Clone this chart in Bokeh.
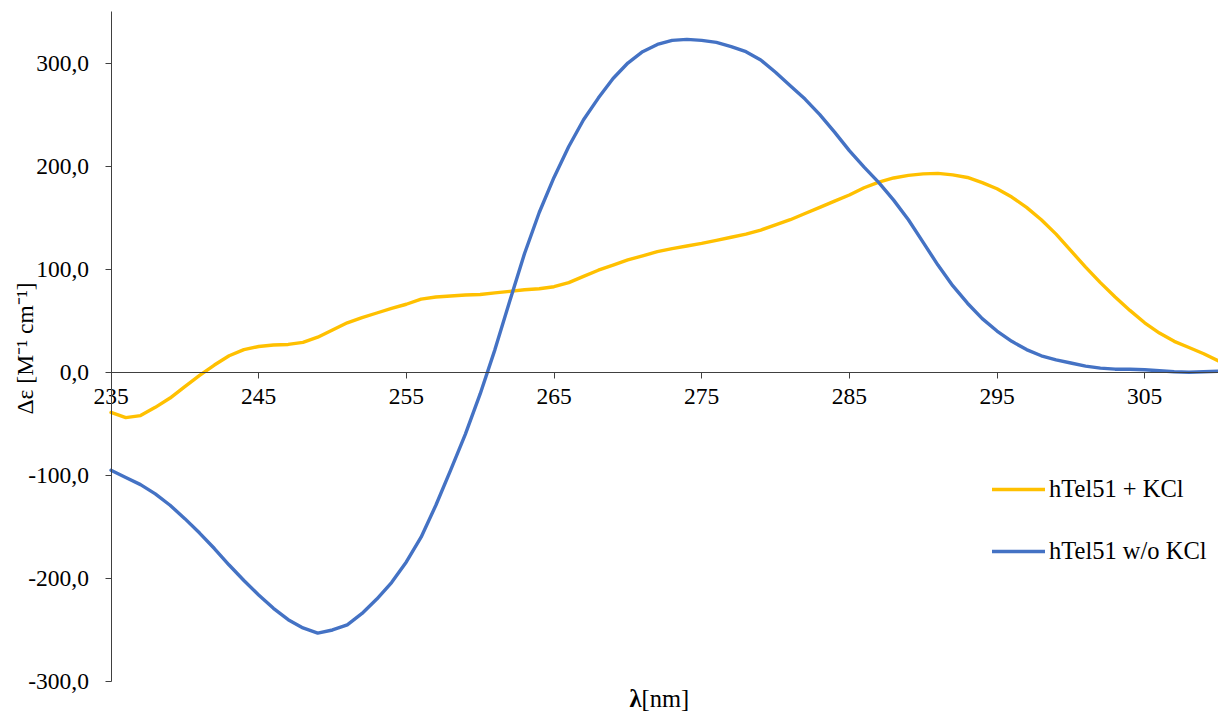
import math
from bokeh.plotting import figure
from bokeh.models import FixedTicker, Label, Legend, LegendItem
from bokeh.embed import file_html
from bokeh.resources import INLINE

# ---------------- data ----------------
wavelength = list(range(235, 311))

htel51_kcl = [
    -39, -44, -42, -34, -25, -14, -3, 7, 16, 22,          # 235-244
    25, 26.5, 27, 29, 34, 41, 48, 53, 57.5, 62,            # 245-254
    66, 71, 73, 74, 75, 75.5, 77, 78.5, 80, 81,            # 255-264
    83, 87, 93, 99, 104, 109, 113, 117, 120, 122.5,        # 265-274
    125, 128, 131, 134, 138, 143, 148, 154, 160, 166,      # 275-284
    172, 179, 184.5, 188.5, 191, 192.5, 193, 191.5, 189, 184,  # 285-294
    178, 170, 160, 148, 134, 118, 102, 87, 73, 60,         # 295-304
    48, 38, 30, 24, 18, 11,                                # 305-310
]

htel51_no_kcl = [
    -95, -102, -109, -118, -129, -142, -156, -171, -187, -202,   # 235-244
    -216, -229, -240, -248, -253, -250, -245, -234, -220, -204,  # 245-254
    -184, -160, -129, -95, -60, -21, 22, 69, 115, 155,           # 255-264
    189, 219, 245, 266, 285, 300, 311, 318, 322, 323,            # 265-274
    322, 320, 316, 311, 303, 291, 278, 265, 250, 233,            # 275-284
    215, 199, 184, 167, 148, 126, 104, 84, 67, 52,               # 285-294
    40, 30, 22, 16, 12, 9, 6, 4, 3, 3,                           # 295-304
    2.5, 1.5, 0.5, 0, 0.5, 1,                                    # 305-310
]

series_names = ["hTel51 + KCl", "hTel51 w/o KCl"]
series_colors = ["#FFC000", "#4472C4"]

x_ticks = [235, 245, 255, 265, 275, 285, 295, 305]
y_ticks = [-300, -200, -100, 0, 100, 200, 300]
y_tick_labels = ["-300,0", "-200,0", "-100,0", "0,0", "100,0", "200,0", "300,0"]

x_title_bold = "λ"
x_title_rest = "[nm]"
y_title = "Δε [M⁻¹ cm⁻¹]"

# axis extents (data) of the drawn axes
x_min, x_max = 235, 310
y_min, y_max = -300, 350

# ---------------- figure ----------------
FONT = "Liberation Serif"
FS = "23.5px"
LEG_FS = "24.5px"
AXIS_COLOR = "#404040"

W, H = 1218, 715
left_px, top_px, bottom_px = 110.5, 11, 681
xs = (W - left_px) / (x_max - x_min)          # px per nm
ys = (bottom_px - top_px) / (y_max - y_min)   # px per unit

p = figure(width=W, height=H,
           x_range=(x_min - left_px / xs, x_max),
           y_range=(y_min - (H - bottom_px) / ys, y_max + top_px / ys),
           output_backend="svg", toolbar_location=None,
           min_border=0, min_border_left=0, min_border_right=0,
           min_border_top=0, min_border_bottom=0)
p.outline_line_color = None
p.xgrid.visible = False
p.ygrid.visible = False
p.background_fill_color = "white"
p.border_fill_color = "white"

# x axis crossing at y = 0
xa = p.xaxis[0]
xa.fixed_location = 0
xa.bounds = (x_min, x_max)
xa.ticker = FixedTicker(ticks=x_ticks)
xa.minor_tick_line_color = None
xa.major_tick_out = 6
xa.major_tick_in = 0
xa.major_label_standoff = 11
xa.axis_line_color = AXIS_COLOR
xa.major_tick_line_color = AXIS_COLOR
xa.major_label_text_font = FONT
xa.major_label_text_font_size = FS
xa.major_label_text_color = "black"

ya = p.yaxis[0]
ya.fixed_location = x_min
ya.bounds = (y_min, y_max)
ya.ticker = FixedTicker(ticks=y_ticks)
ya.major_label_overrides = {float(t): lab for t, lab in zip(y_ticks, y_tick_labels)}
ya.minor_tick_line_color = None
ya.major_tick_out = 6
ya.major_tick_in = 0
ya.major_label_standoff = 16
ya.axis_line_color = AXIS_COLOR
ya.major_tick_line_color = AXIS_COLOR
ya.major_label_text_font = FONT
ya.major_label_text_font_size = FS
ya.major_label_text_color = "black"

# lines
r1 = p.line(wavelength, htel51_kcl, line_color=series_colors[0], line_width=3.4,
            line_join="round", line_cap="round")
r2 = p.line(wavelength, htel51_no_kcl, line_color=series_colors[1], line_width=3.4,
            line_join="round", line_cap="round")

legend = Legend(items=[LegendItem(label=series_names[0], renderers=[r1]),
                       LegendItem(label=series_names[1], renderers=[r2])],
                location=(992, 150), orientation="vertical")
legend.glyph_width = 53
legend.glyph_height = 28
legend.label_height = 28
legend.label_standoff = 4
legend.spacing = 34
legend.padding = 0
legend.margin = 0
legend.border_line_color = None
legend.background_fill_alpha = 0
legend.label_text_font = FONT
legend.label_text_font_size = LEG_FS
legend.label_text_color = "black"
legend.label_text_baseline = "middle"
p.add_layout(legend)

# axis titles (in data coordinates, outside the drawn axes)
x_title_at = x_min + (641 - left_px) / xs
x_title_y = y_min - (698 - bottom_px) / ys
p.add_layout(Label(x=x_title_at, y=x_title_y, text=x_title_bold, text_align="right",
                   text_baseline="middle", text_font=FONT, text_font_size=LEG_FS,
                   text_font_style="bold", text_color="black"))
p.add_layout(Label(x=x_title_at, y=x_title_y, text=x_title_rest, text_align="left",
                   text_baseline="middle", text_font=FONT, text_font_size=LEG_FS,
                   text_color="black"))
y_title_x = x_min - (left_px - 24) / xs
y_title_y = y_min + (bottom_px - 348) / ys
p.add_layout(Label(x=y_title_x, y=y_title_y, text=y_title, angle=math.pi / 2,
                   text_align="center", text_baseline="middle", text_font=FONT,
                   text_font_size=FS, text_color="black"))

open("out.html", "w").write(file_html(p, INLINE))
